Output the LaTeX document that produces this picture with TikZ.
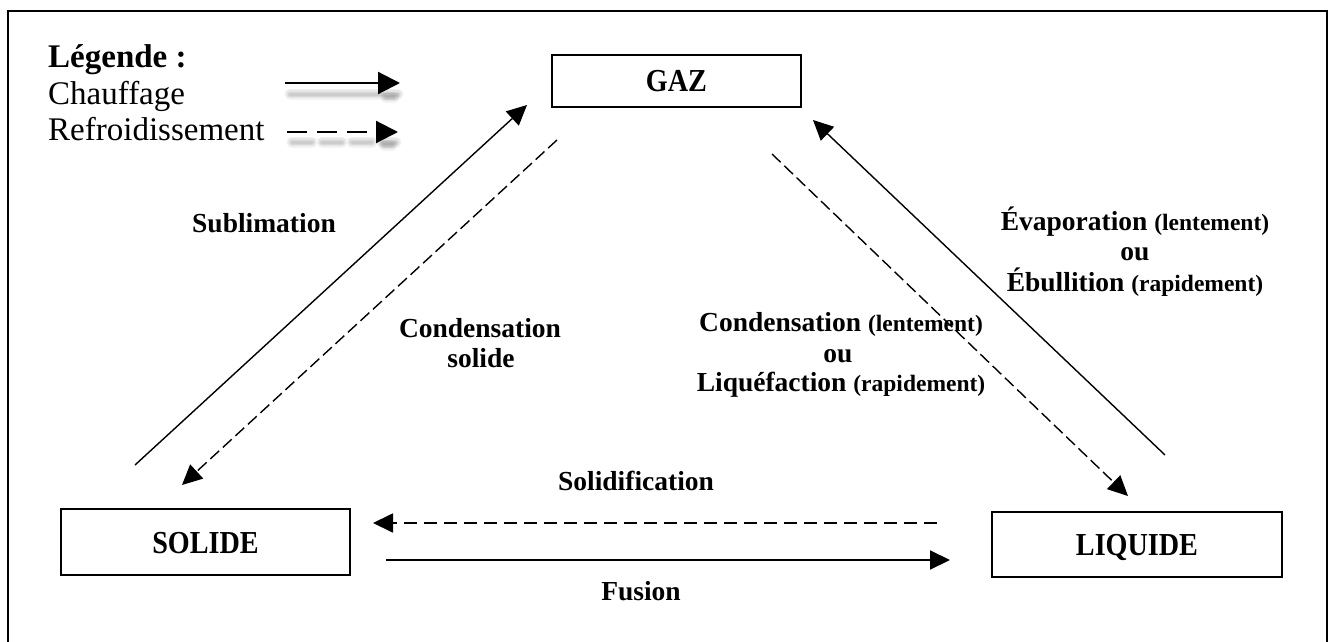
\documentclass[tikz,border=0pt]{standalone}
\usepackage{fontspec}
\setmainfont{Liberation Serif}
\newfontfamily\boxfont{Liberation Serif}[FakeStretch=0.88]
\usetikzlibrary{arrows.meta}
\newcommand\parenlbl[1]{{\fontsize{23.5}{27}\selectfont #1}}
\begin{document}
\begin{tikzpicture}[x=1pt,y=-1pt,
  frame/.style={line width=2pt},
  statebox/.style={draw, line width=1.6pt, inner sep=0pt,
    font=\boxfont\bfseries\fontsize{32}{38}\selectfont,
    text height=22pt, text depth=0pt},
  lbl/.style={font=\bfseries\fontsize{27.5}{31}\selectfont, anchor=base, inner sep=0pt},
  legtxt/.style={anchor=base west, inner sep=0pt, font=\fontsize{33}{37}\selectfont},
  bigtip/.style={-{Triangle[length=20pt,width=19pt]}},
  heat/.style={line width=1.4pt, bigtip},
  cool/.style={line width=1.4pt, dash pattern=on 12pt off 5pt, bigtip},
  coolh/.style={line width=1.8pt, dash pattern=on 13pt off 7pt, bigtip},
  legheat/.style={line width=2.2pt, -{Triangle[length=22pt,width=22pt]}},
  legcool/.style={line width=2.2pt, dash pattern=on 20pt off 10pt, -{Triangle[length=22pt,width=22pt]}},
  shade/.style={black, opacity=0.05, line cap=round}
]
\clip (0,0) rectangle (1328,642);
\fill[white] (0,0) rectangle (1328,642);

% outer frame (open at the bottom)
\draw[frame] (8,660) -- (8,11) -- (1327,11) -- (1327,660);

% legend
\node[legtxt, font=\bfseries\fontsize{33}{37}\selectfont] (leg) at (48,67) {Légende :};
\node[legtxt] (chauf) at (48,104) {Chauffage};
\node[legtxt] (refr) at (48,140) {Refroidissement};

\coordinate (lh1) at (285,83);
\coordinate (lh2) at (400,83);
\coordinate (lc1) at (287,132);
\coordinate (lc2) at (398,132);

% soft legend shadows
\foreach \w in {11,8,5,3}{
  \draw[shade, line width=\w pt] ([shift={(5,11)}]lh1) -- ([shift={(-2,11)}]lh2);
  \draw[shade, line width=\w pt] ([shift={(-14,14)}]lh2) -- ([shift={(-6,14)}]lh2);
  \draw[shade, line width=\w pt, dash pattern=on 20pt off 10pt] ([shift={(5,10)}]lc1) -- ([shift={(-2,10)}]lc2);
  \draw[shade, line width=\w pt] ([shift={(-14,13)}]lc2) -- ([shift={(-6,13)}]lc2);
}
\draw[legheat] (lh1) -- (lh2);
\draw[legcool] (lc1) -- (lc2);

% state boxes
\node[statebox, minimum width=249pt, minimum height=52pt] (gaz) at (676.5,81) {GAZ};
\node[statebox, minimum width=289pt, minimum height=66pt] (solide) at (205.5,542) {SOLIDE};
\node[statebox, minimum width=290pt, minimum height=65pt] (liquide) at (1137,544.5) {LIQUIDE};

% arrow end points
\coordinate (sub1) at (135,465);
\coordinate (sub2) at (527,105);
\coordinate (cs1) at (557,140);
\coordinate (cs2) at (182,485);
\coordinate (ev1) at (1165,455);
\coordinate (ev2) at (813,120);
\coordinate (cl1) at (772,154);
\coordinate (cl2) at (1128,496);
\coordinate (so1) at (937,523);
\coordinate (so2) at (373,523);
\coordinate (fu1) at (386,560);
\coordinate (fu2) at (950,560);

\draw[heat] (sub1) -- (sub2);
\draw[cool] (cs1) -- (cs2);
\draw[heat] (ev1) -- (ev2);
\draw[cool] (cl1) -- (cl2);
\draw[coolh] (so1) -- (so2);
\draw[heat, line width=2pt] (fu1) -- (fu2);

% labels
\node[lbl] (tsub) at (264,232) {Sublimation};
\node[lbl] (tcs1) at (480,337) {Condensation};
\node[lbl] (tcs2) at (481,367) {solide};

\node[lbl] (tev1) at (1135,230) {Évaporation \parenlbl{(lentement)}};
\node[lbl] (tev2) at (1135,260) {ou};
\node[lbl] (tev3) at (1135,291) {Ébullition \parenlbl{(rapidement)}};

\node[lbl] (tcl1) at (841,331) {Condensation \parenlbl{(lentement)}};
\node[lbl] (tcl2) at (838,362) {ou};
\node[lbl] (tcl3) at (841,391) {Liquéfaction \parenlbl{(rapidement)}};

\node[lbl] (tso) at (636,490) {Solidification};
\node[lbl] (tfu) at (641,600) {Fusion};
\end{tikzpicture}
\end{document}
